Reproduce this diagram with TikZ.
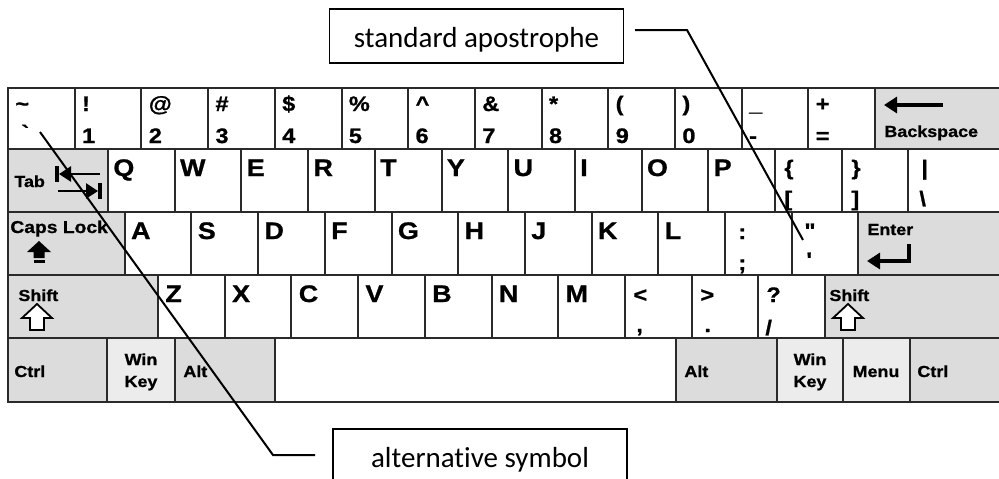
\documentclass[tikz,border=0pt]{standalone}
\usepackage{fontspec}
\setmainfont{Carlito}[Ligatures={NoCommon}]
\newfontfamily\keyfont{Liberation Sans}[BoldFeatures={FakeBold=0.9}]
\usetikzlibrary{arrows.meta}

\definecolor{keygray}{HTML}{DCDCDC}
\definecolor{keylight}{HTML}{ECECEC}
\definecolor{keyline}{HTML}{2A2A2A}

% slightly widened key lettering
\newcommand\kwide[1]{\scalebox{1.12}[1]{#1}}

\tikzset{
  keybox/.style={draw=keyline, line width=1pt, line join=miter},
  modkey/.style={keybox, fill=keygray},
  winkey/.style={keybox, fill=keylight},
  plainkey/.style={keybox, fill=white},
  big/.style={font=\keyfont\bfseries\fontsize{12}{13}\selectfont, inner sep=0pt, anchor=base west},
  sym/.style={font=\keyfont\bfseries\fontsize{10.5}{11}\selectfont, inner sep=0pt, anchor=base west},
  small/.style={font=\keyfont\bfseries\fontsize{8}{9}\selectfont, inner sep=0pt, anchor=base west},
  icon/.style={line width=1.6pt, line join=miter, -{Triangle[length=6.5pt,width=8pt]}},
  tabarrow/.style={line width=1.3pt, -{Triangle[length=6pt,width=7.5pt]}},
  shiftarrow/.style={draw=black, fill=white, line width=0.9pt, line join=miter},
  callout/.style={draw=black, line width=0.9pt, inner sep=0pt, anchor=base,
    minimum width=147pt, text height=19pt, text depth=8pt,
    font=\fontsize{14.5}{16}\selectfont},
  leader/.style={draw=black, line width=1pt, line join=miter},
}

\begin{document}
\begin{tikzpicture}[x=0.5pt, y=-0.5pt]
\useasboundingbox (0,0) rectangle (999,478);
\clip (0,0) rectangle (999,478);

% ---------- row 1: number keys ----------
\draw[plainkey] (8,88) rectangle (74.7,149);
\foreach \i in {1,...,12}
  \draw[plainkey] ({8+66.7*\i},88) rectangle ++(66.7,61);
\draw[modkey] (875.1,88) rectangle (1006,149);

% ---------- row 2 ----------
\draw[modkey] (8,149) rectangle (108,212);
\foreach \k in {0,...,11}
  \draw[plainkey] ({108+66.7*\k},149) rectangle ++(66.7,63);
\draw[plainkey] (908.4,149) rectangle (1006,212);

% ---------- row 3 ----------
\draw[modkey] (8,212) rectangle (124.7,275);
\foreach \k in {0,...,10}
  \draw[plainkey] ({124.7+66.7*\k},212) rectangle ++(66.7,63);
\draw[modkey] (858.4,212) rectangle (1006,275);

% ---------- row 4 ----------
\draw[modkey] (8,275) rectangle (158,338);
\foreach \k in {0,...,9}
  \draw[plainkey] ({158+66.7*\k},275) rectangle ++(66.7,63);
\draw[modkey] (825,275) rectangle (1006,338);

% ---------- row 5 ----------
\draw[modkey]   (8,338)   rectangle (107,402);
\draw[winkey]   (107,338) rectangle (175,402);
\draw[modkey]   (175,338) rectangle (275,402);
\draw[plainkey] (275,338) rectangle (676,402);
\draw[modkey]   (676,338) rectangle (777,402);
\draw[winkey]   (777,338) rectangle (843,402);
\draw[winkey]   (843,338) rectangle (910,402);
\draw[modkey]   (910,338) rectangle (1006,402);

% ---------- row 1 labels ----------
\node[sym] (tilde) at (15,111) {\kwide{\textasciitilde}};
\node[sym] (grave) at (21,140) {\kwide{\textasciigrave}};
\foreach \i/\up/\lo in {1/!/1, 2/@/2, 3/\#/3, 4/\$/4, 5/\%/5,
    6/\textasciicircum/6, 7/\&/7, 8/*/8, 9/(/9, 10/)/0, 11/\_/-, 12/+/=} {
  \node[sym] (up\i) at ({8+66.7*\i+7},111) {\kwide{\up}};
  \node[sym] (lo\i) at ({8+66.7*\i+7},143) {\kwide{\lo}};
}

% ---------- row 2 labels ----------
\foreach \k/\t in {0/Q,1/W,2/E,3/R,4/T,5/Y,6/U,7/I,8/O,9/P}
  \node[big] (qrow\k) at ({108+66.7*\k+5},176) {\kwide{\t}};
\node[sym] (lbrace) at (784,175) {\kwide{\{}};
\node[sym] (lbrack) at (784,206) {\kwide{[}};
\node[sym] (rbrace) at (851,175) {\kwide{\}}};
\node[sym] (rbrack) at (851,206) {\kwide{]}};
\node[sym] (vbar)   at (921,175) {\kwide{\textbar}};
\node[sym] (bslash) at (919,206) {\kwide{\textbackslash}};

% ---------- row 3 labels ----------
\foreach \k/\t in {0/A,1/S,2/D,3/F,4/G,5/H,6/J,7/K,8/L}
  \node[big] (arow\k) at ({124.7+66.7*\k+6},239) {\kwide{\t}};
\node[sym] (colon) at (738,239) {\kwide{:}};
\node[sym] (semi)  at (738,270) {\kwide{;}};
\node[sym] (dquote) at (804,238) {\kwide{\textquotedbl}};
\node[sym] (squote) at (806,267) {\kwide{\textquotesingle}};

% ---------- row 4 labels ----------
\foreach \k/\t in {0/Z,1/X,2/C,3/V,4/B,5/N,6/M}
  \node[big] (zrow\k) at ({158+66.7*\k+7},302) {\kwide{\t}};
\node[sym] (less)    at (633,302) {\kwide{\textless}};
\node[sym] (comma)   at (636,332) {\kwide{,}};
\node[sym] (greater) at (700,302) {\kwide{\textgreater}};
\node[sym] (period)  at (704,332) {\kwide{.}};
\node[sym] (quest)   at (766,302) {\kwide{?}};
\node[sym] (slash)   at (765,335) {\kwide{/}};

% ---------- modifier labels ----------
\node[small] (tab)   at (14,187)  {\kwide{Tab}};
\node[small, font=\keyfont\bfseries\fontsize{8.6}{9}\selectfont]
             (caps)  at (10,233)  {\kwide{Caps Lock}};
\node[small] (lshift) at (18,301) {\kwide{Shift}};
\node[small] (rshift) at (829,301) {\kwide{Shift}};
\node[small] (bksp)  at (884,137) {\kwide{Backspace}};
\node[small] (enter) at (867,235) {\kwide{Enter}};
\node[small] (lctrl) at (14,377)  {\kwide{Ctrl}};
\node[small, anchor=base] (lwin)  at (141,365) {\kwide{Win}};
\node[small, anchor=base] (lkey)  at (141,387) {\kwide{Key}};
\node[small] (lalt)  at (183,377) {\kwide{Alt}};
\node[small] (ralt)  at (684,377) {\kwide{Alt}};
\node[small, anchor=base] (rwin)  at (810,365) {\kwide{Win}};
\node[small, anchor=base] (rkey)  at (810,387) {\kwide{Key}};
\node[small, anchor=base] (menu)  at (876,377) {\kwide{Menu}};
\node[small] (rctrl) at (917,377) {\kwide{Ctrl}};

% ---------- key icons ----------
% tab: left arrow to a bar, right arrow to a bar
\draw[line width=1.6pt] (57,166) -- (57,182);
\draw[tabarrow] (100,174) -- (59,174);
\draw[tabarrow] (58,191) -- (98,191);
\draw[line width=1.6pt] (100,183) -- (100,199);
% caps lock: solid up arrow over a bar
\fill (39,241) -- (51,252) -- (44.5,252) -- (44.5,258) -- (33.5,258)
      -- (33.5,252) -- (27,252) -- cycle;
\fill (33.5,260) rectangle (44.5,263);
% shift: outlined up arrows
\draw[shiftarrow] (37,304) -- (52,318) -- (44,318) -- (44,330) -- (30,330)
      -- (30,318) -- (22,318) -- cycle;
\draw[shiftarrow] (848,304) -- (863,318) -- (855,318) -- (855,330) -- (841,330)
      -- (841,318) -- (833,318) -- cycle;
% backspace and enter arrows
\draw[icon] (943,105) -- (884,105);
\draw[icon] (909,244) -- (909,261) -- (867,261);

% ---------- callouts ----------
\node[callout] (stdbox) at (476.5,47) {standard apostrophe};
\node[callout] (altbox) at (480,467) {alternative symbol};

\coordinate (stdStart) at (635,30);
\coordinate (stdBend)  at (687,30);
\coordinate (stdTip)   at (803,240);
\coordinate (altStart) at (315,455);
\coordinate (altBend)  at (273,455);
\coordinate (altTip)   at (40,132);

\draw[leader] (stdStart) -- (stdBend) -- (stdTip);
\draw[leader] (altStart) -- (altBend) -- (altTip);
\end{tikzpicture}
\end{document}
